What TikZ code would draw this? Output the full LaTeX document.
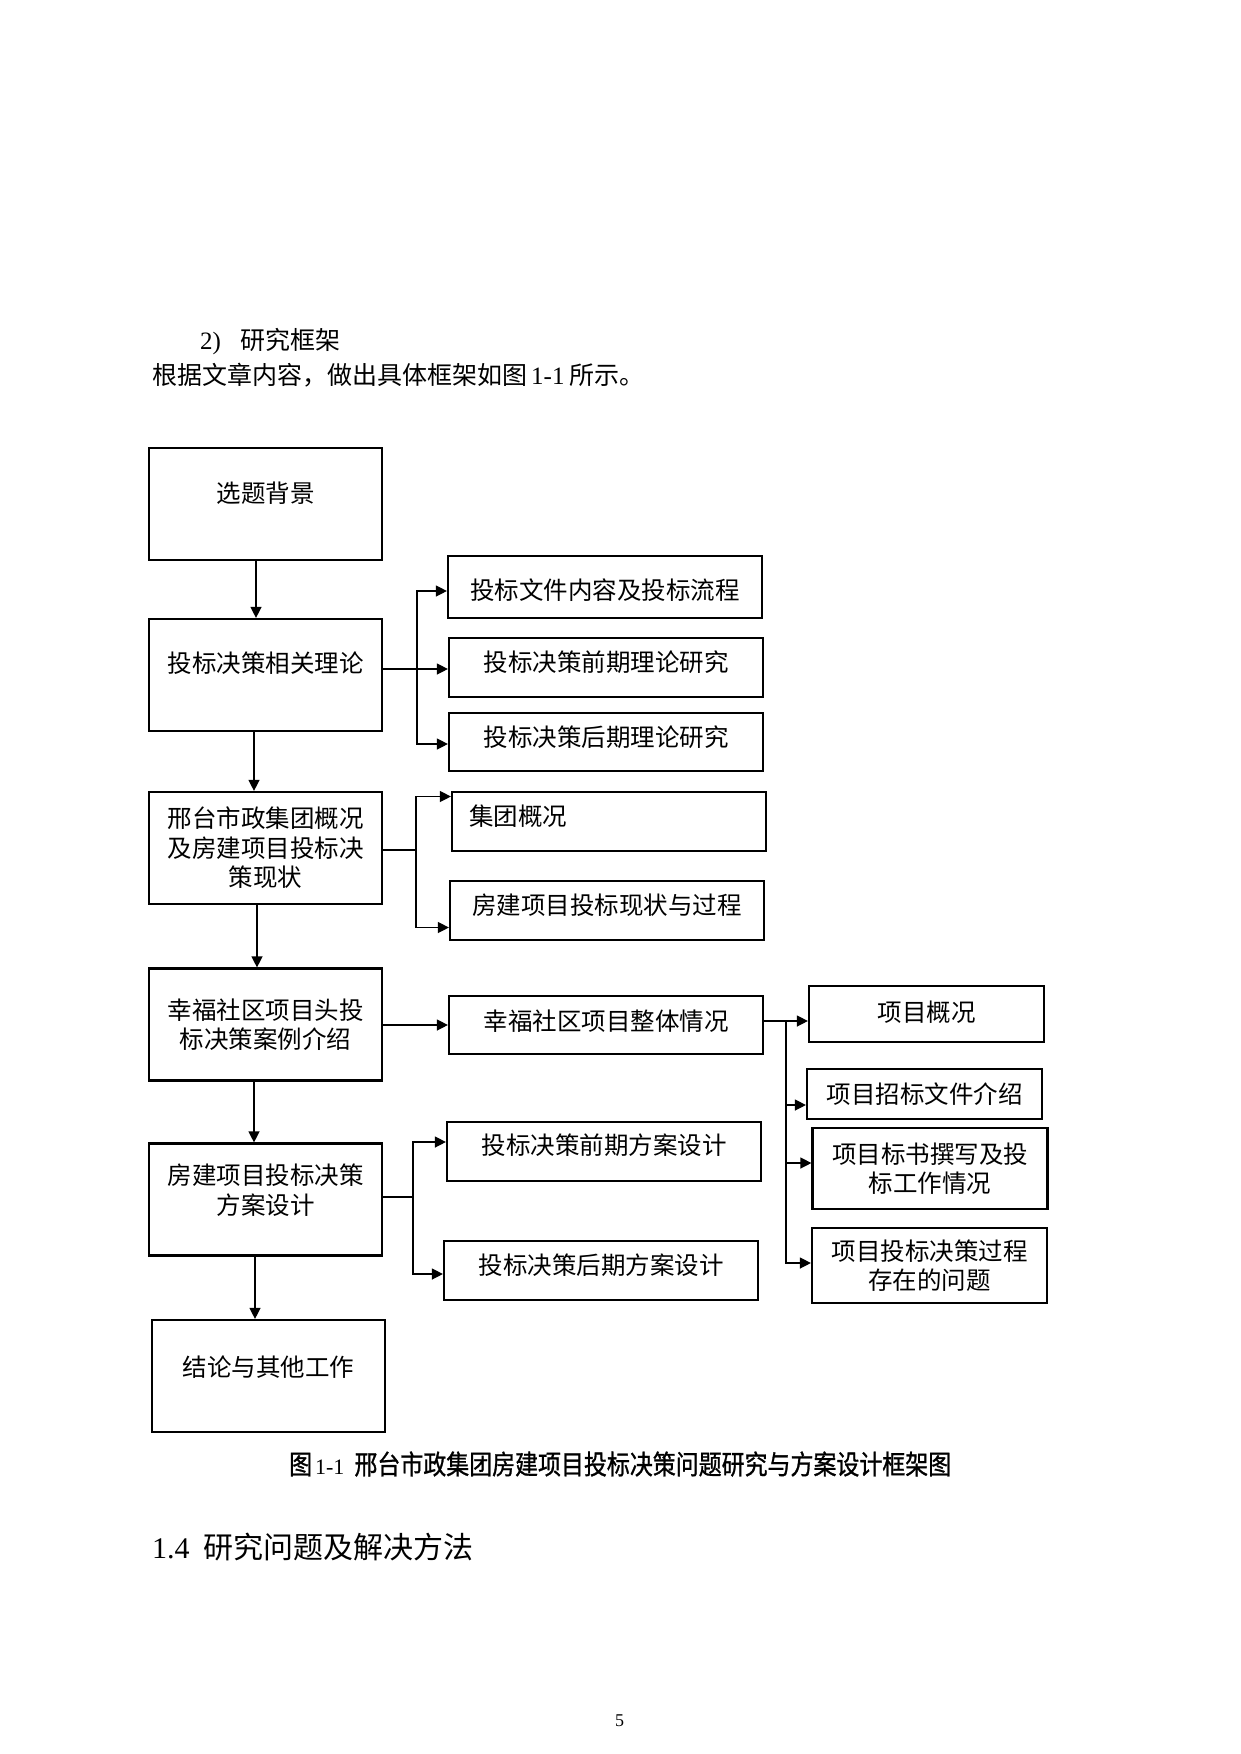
\documentclass[tikz,border=0pt]{standalone}
\usepackage{fontspec}
\setmainfont{Liberation Serif}
\newfontfamily\cjk{Noto Sans CJK SC}
\newfontfamily\capfont[FakeStretch=0.85, FakeBold=1]{Noto Sans CJK SC}
\usetikzlibrary{arrows.meta}
\newcommand{\lift}[2]{\raisebox{#1pt}[0.88em][0.12em]{#2}}

\begin{document}
\begin{tikzpicture}[x=1pt,y=-1pt,
  box/.style={draw, line width=2.2pt, inner sep=0pt, align=center,
    font=\cjk\fontsize{24.5}{29.5}\selectfont},
  lbox/.style={box, minimum width=233pt, minimum height=112pt},
  rbox/.style={box, minimum width=314pt, minimum height=#1},
  hbox/.style={box, minimum width=235pt, minimum height=#1},
  txt/.style={anchor=west, inner sep=0pt},
  arr/.style={line width=1.3pt, -{Triangle[length=11pt,width=11pt]}}]
\useasboundingbox (0,0) rectangle (1240,1754);
\node[txt, font=\fontsize{25}{30}\selectfont] (sec) at (200,342) {2)\hspace{19pt}{\cjk 研究框架}};
\node[txt, font=\fontsize{25}{30}\selectfont] (intro) at (152,375) {{\cjk 根据文章内容，做出具体框架如图}\hspace{4pt}1-1\hspace{5pt}{\cjk 所示。}};

\node[lbox] (bg) at (265.5,504) {\lift{11}{选题背景}};
\node[lbox] (th) at (265.5,675) {\lift{12}{投标决策相关理论}};
\node[lbox] (xt) at (265.5,848) {邢台市政集团概况\\及房建项目投标决\\策现状};
\node[lbox] (xf) at (265.5,1024.5) {幸福社区项目头投\\标决策案例介绍};
\node[lbox] (fa) at (265.5,1199.5) {\lift{9.5}{房建项目投标决策}\\\lift{9.5}{方案设计}};
\node[lbox] (jl) at (268.5,1376) {\lift{9}{结论与其他工作}};

\node[rbox=62pt] (wj) at (605,587) {\lift{-3}{投标文件内容及投标流程}};
\node[rbox=59pt] (qq) at (606,667.5) {\lift{5.5}{投标决策前期理论研究}};
\node[rbox=58pt] (hq) at (606,742) {\lift{5}{投标决策后期理论研究}};
\node[rbox=59pt, inner xsep=17pt, text width=280pt, align=left] (jt) at (609,821.5) {\lift{5.5}{集团概况}};
\node[rbox=59pt] (xz) at (607,910.5) {\lift{5.5}{房建项目投标现状与过程}};
\node[rbox=58pt] (zt) at (606,1025) {\lift{4}{幸福社区项目整体情况}};
\node[rbox=59pt] (qf) at (604,1151.5) {\lift{6.5}{投标决策前期方案设计}};
\node[rbox=59pt] (hf) at (601,1270.5) {\lift{5.5}{投标决策后期方案设计}};

\node[hbox=56pt] (gk) at (926.5,1014) {\lift{2}{项目概况}};
\node[hbox=50pt] (zb) at (924.5,1094) {项目招标文件介绍};
\node[hbox=81pt] (bs) at (930,1168.5) {项目标书撰写及投\\标工作情况};
\node[hbox=75pt] (wt) at (929.5,1265.5) {项目投标决策过程\\存在的问题};

\draw[arr] ([xshift=-9.5pt]bg.south) -- ([xshift=-9.5pt]bg.south |- th.north);
\draw[arr] ([xshift=-11.5pt]th.south) -- ([xshift=-11.5pt]th.south |- xt.north);
\draw[arr] ([xshift=-8.5pt]xt.south) -- ([xshift=-8.5pt]xt.south |- xf.north);
\draw[arr] ([xshift=-11.5pt]xf.south) -- ([xshift=-11.5pt]xf.south |- fa.north);
\draw[arr] ([xshift=-10.5pt]fa.south) -- ([xshift=-10.5pt]fa.south |- jl.north);

\coordinate (f1) at (417,669);
\draw[arr] (th.east |- f1) -- (f1 -| qq.west);
\draw[arr] (f1) |- ([yshift=-4pt]wj.west);
\draw[arr] (f1) |- ([yshift=-2pt]hq.west);

\coordinate (f2) at (416,850);
\draw[line width=1.3pt] (xt.east |- f2) -- (f2);
\draw[arr] (f2) |- ([yshift=25pt]jt.west);
\draw[arr] (f2) |- ([yshift=-17pt]xz.west);

\draw[arr] (xf.east |- zt) -- (zt.west);

\coordinate (f3) at (413,1197);
\draw[line width=1.3pt] (fa.east |- f3) -- (f3);
\draw[arr] (f3) |- ([yshift=9.5pt]qf.west);
\draw[arr] (f3) |- ([yshift=-3.5pt]hf.west);

\coordinate (f4) at (786,1021);
\draw[line width=2.2pt] (zt.east |- f4) -- (f4);
\draw[arr] (f4) -- (f4 -| gk.west);
\draw[arr] (f4) |- ([yshift=-11pt]zb.west);
\draw[arr] (f4) |- ([yshift=5.5pt]bs.west);
\draw[arr] (f4) |- ([yshift=2.5pt]wt.west);

\node[txt, font=\capfont\fontsize{27}{32}\selectfont] (cap) at (289,1464) {图\hspace{3pt}{\rmfamily\fontsize{22}{26}\selectfont 1-1}\hspace{10pt}邢台市政集团房建项目投标决策问题研究与方案设计框架图};
\node[txt] (h14) at (152,1547) {\fontsize{30}{36}\selectfont 1.4\hspace{14pt}{\cjk\fontsize{30}{36}\selectfont 研究问题及解决方法}};
\node[font=\fontsize{18}{21}\selectfont] (pg) at (619.5,1721) {5};
\end{tikzpicture}
\end{document}
